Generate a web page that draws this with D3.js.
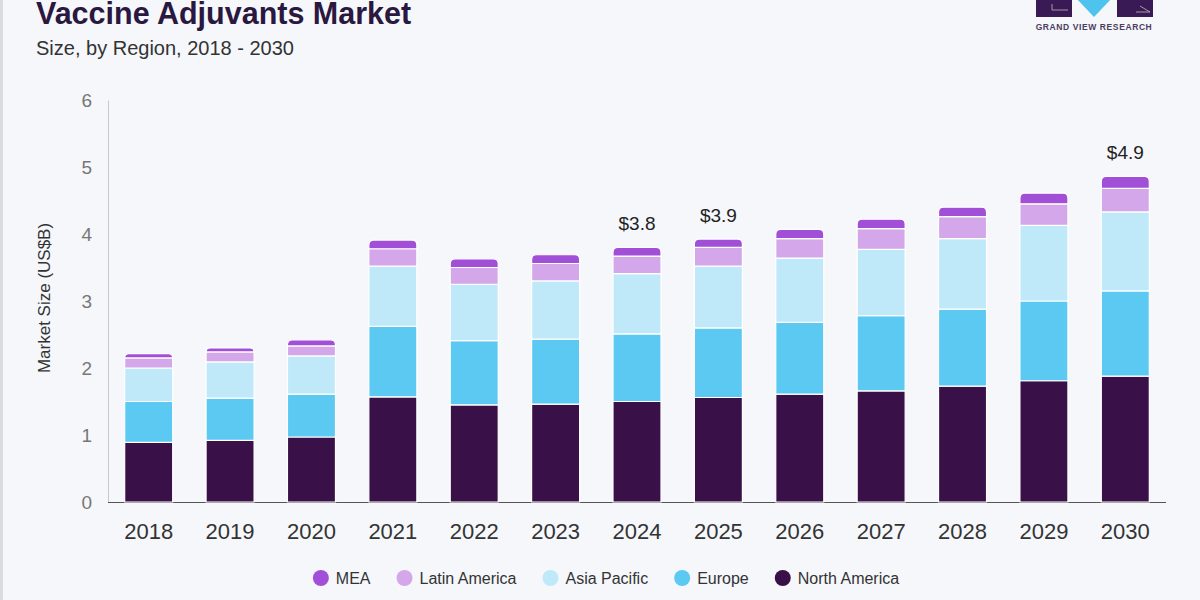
<!DOCTYPE html>
<html>
<head>
<meta charset="utf-8">
<script src="https://cdn.jsdelivr.net/npm/d3@7"></script>
<style>
  body { margin: 0; background: #f5f7fb; }
  svg { display: block; font-family: "Liberation Sans", Arial, sans-serif; }
</style>
</head>
<body>
<div id="chart"></div>
<script>
const years = ["2018", "2019", "2020", "2021", "2022", "2023", "2024", "2025", "2026", "2027", "2028", "2029", "2030"];
const northAmerica = [0.89, 0.92, 0.97, 1.57, 1.45, 1.46, 1.50, 1.56, 1.61, 1.66, 1.73, 1.81, 1.88];
const europe       = [0.61, 0.63, 0.64, 1.05, 0.96, 0.97, 1.01, 1.04, 1.07, 1.12, 1.15, 1.19, 1.27];
const asiaPacific  = [0.50, 0.54, 0.57, 0.90, 0.84, 0.87, 0.90, 0.92, 0.96, 0.99, 1.05, 1.13, 1.18];
const latinAmerica = [0.15, 0.15, 0.15, 0.26, 0.25, 0.26, 0.26, 0.28, 0.29, 0.31, 0.33, 0.32, 0.35];
const mea          = [0.065, 0.06, 0.09, 0.13, 0.13, 0.13, 0.13, 0.125, 0.14, 0.14, 0.14, 0.16, 0.18];
const yTicks = [0, 1, 2, 3, 4, 5, 6];
const valueLabels = { "2024": "$3.8", "2025": "$3.9", "2030": "$4.9" };

// stacking order bottom -> top
const series = [
    { name: "North America", values: northAmerica, color: "#3a1049" },
    { name: "Europe", values: europe, color: "#5bc9f1" },
    { name: "Asia Pacific", values: asiaPacific, color: "#bfe9f9" },
    { name: "Latin America", values: latinAmerica, color: "#d4a6ea" },
    { name: "MEA", values: mea, color: "#a24fd8" }
];

const width = 1200, height = 600;
const plotLeft = 108, plotRight = 1166, plotTop = 100, plotBottom = 502;

const svg = d3.select("#chart").append("svg")
    .attr("width", width)
    .attr("height", height);

svg.append("rect").attr("width", width).attr("height", height).attr("fill", "#f5f7fb");
svg.append("rect").attr("width", 3).attr("height", height).attr("fill", "#d9dbe0");

// title
svg.append("text")
    .attr("x", 36).attr("y", 24)
    .attr("font-size", "30.5px").attr("font-weight", "bold")
    .attr("fill", "#2a1840")
    .text("Vaccine Adjuvants Market");

svg.append("text")
    .attr("x", 36).attr("y", 55)
    .attr("font-size", "20px")
    .attr("fill", "#333")
    .text("Size, by Region, 2018 - 2030");

// logo
const logo = svg.append("g");
logo.append("rect").attr("x", 1036).attr("y", -2).attr("width", 36).attr("height", 19).attr("fill", "#3a1a55");
logo.append("rect").attr("x", 1117).attr("y", -2).attr("width", 36).attr("height", 19).attr("fill", "#3a1a55");
logo.append("path").attr("d", "M1076,-2 L1112,-2 L1094,17 Z").attr("fill", "#4ec3ee");
logo.append("path").attr("d", "M1052,10 L1068,10 M1052,10 L1052,4").attr("stroke", "#bbb").attr("stroke-width", 0.8).attr("fill", "none");
logo.append("path").attr("d", "M1140,6 L1150,12 L1136,12").attr("stroke", "#bbb").attr("stroke-width", 0.8).attr("fill", "none");
logo.append("text")
    .attr("x", 1094).attr("y", 30)
    .attr("text-anchor", "middle")
    .attr("font-size", "8.5px").attr("font-weight", "bold")
    .attr("letter-spacing", "0.6px")
    .attr("fill", "#4b3d5e")
    .text("GRAND VIEW RESEARCH");

// scales
const x = d3.scaleBand()
    .domain(years)
    .range([plotLeft, plotRight])
    .paddingInner(0.41)
    .paddingOuter(0.205);

const y = d3.scaleLinear()
    .domain([0, 6])
    .range([plotBottom, plotTop]);

// y axis
const yAxis = svg.append("g")
    .attr("transform", `translate(${plotLeft},0)`)
    .call(d3.axisLeft(y).tickValues(yTicks).tickFormat(d3.format("d")).tickSize(0).tickPadding(16));
yAxis.select(".domain").attr("stroke", "#c8c8cc");
yAxis.selectAll("text")
    .attr("font-size", "19px")
    .attr("fill", "#777")
    .attr("font-family", "Liberation Sans, Arial, sans-serif");

// x axis
const xAxis = svg.append("g")
    .attr("transform", `translate(0,${plotBottom})`)
    .call(d3.axisBottom(x).tickSize(0).tickPadding(21));
xAxis.select(".domain").attr("stroke", "#555").attr("d", `M${plotLeft},0.5H${plotRight}`);
xAxis.selectAll("text")
    .attr("font-size", "22px")
    .attr("fill", "#333")
    .attr("font-family", "Liberation Sans, Arial, sans-serif");

svg.append("text")
    .attr("transform", "translate(50,298) rotate(-90)")
    .attr("text-anchor", "middle")
    .attr("font-size", "17px")
    .attr("fill", "#333")
    .text("Market Size (US$B)");

// stacked bars
const table = years.map((yr, i) => {
    const row = { year: yr };
    series.forEach(s => row[s.name] = s.values[i]);
    return row;
});
const stack = d3.stack().keys(series.map(s => s.name));
const stacked = stack(table);

function roundTop(x0, y0, w, h, r) {
    r = Math.min(r, h);
    return `M${x0},${y0 + h} V${y0 + r} Q${x0},${y0} ${x0 + r},${y0} H${x0 + w - r} Q${x0 + w},${y0} ${x0 + w},${y0 + r} V${y0 + h} Z`;
}

stacked.forEach((layer, li) => {
    const color = series[li].color;
    const isTop = li === stacked.length - 1;
    svg.append("g")
        .selectAll("path")
        .data(layer)
        .enter()
        .append("path")
        .attr("d", d => {
            const x0 = x(d.data.year);
            const y0 = y(d[1]);
            const h = y(d[0]) - y(d[1]);
            return isTop ? roundTop(x0, y0, x.bandwidth(), h, 5) :
                `M${x0},${y0}h${x.bandwidth()}v${h}h${-x.bandwidth()}Z`;
        })
        .attr("fill", color)
        .attr("stroke", "#ffffff")
        .attr("stroke-width", 1.2);
});

// value labels
const totals = years.map((yr, i) => d3.sum(series, s => s.values[i]));
svg.append("g")
    .selectAll("text")
    .data(years.filter(yr => valueLabels[yr]))
    .enter()
    .append("text")
    .attr("x", d => x(d) + x.bandwidth() / 2)
    .attr("y", d => y(totals[years.indexOf(d)]) - 17)
    .attr("text-anchor", "middle")
    .attr("font-size", "19px")
    .attr("fill", "#222")
    .text(d => valueLabels[d]);

// legend
const legendOrder = ["MEA", "Latin America", "Asia Pacific", "Europe", "North America"];
const legend = svg.append("g");
let lx = 0;
const legendGap = 26;
legendOrder.forEach(name => {
    const s = series.find(d => d.name === name);
    const g = legend.append("g").attr("transform", `translate(${lx},0)`);
    g.append("circle").attr("cx", 8).attr("cy", 0).attr("r", 8).attr("fill", s.color);
    const t = g.append("text")
        .attr("x", 23).attr("y", 6)
        .attr("font-size", "16px")
        .attr("fill", "#333")
        .text(name);
    lx += 23 + t.node().getComputedTextLength() + legendGap;
});
const legendWidth = lx - legendGap;
legend.attr("transform", `translate(${606 - legendWidth / 2},578)`);
</script>
</body>
</html>
